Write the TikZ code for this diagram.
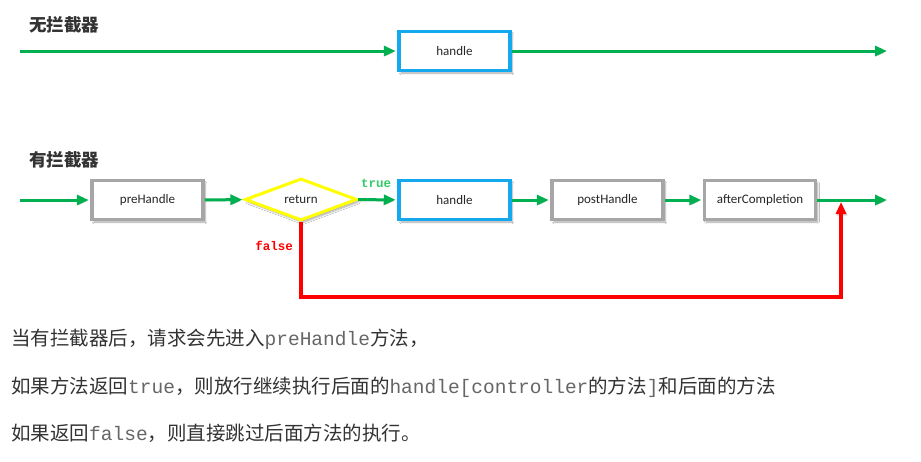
\documentclass[tikz,border=0pt]{standalone}
\usepackage{fontspec}
\setmainfont{Carlito}
\newfontfamily\cjk{Noto Sans CJK SC}
\newfontfamily\monof{Liberation Mono}
\usetikzlibrary{shapes.geometric,arrows.meta,shadows.blur}
\definecolor{cgreen}{HTML}{00B050}
\definecolor{cblue}{HTML}{14A9EE}
\definecolor{cgray}{HTML}{A6A6A6}
\definecolor{cyel}{HTML}{FFFF00}
\definecolor{cred}{HTML}{FF0000}
\definecolor{ctext}{HTML}{333333}
\definecolor{clabel}{HTML}{262626}
\definecolor{cmono}{HTML}{666666}
\definecolor{ctrue}{HTML}{33CC66}
\begin{document}
\begin{tikzpicture}[x=1pt,y=-1pt,
  sh/.style={blur shadow={shadow xshift=2pt, shadow yshift=-2.5pt, shadow opacity=35, shadow blur steps=6}},
  box/.style={draw, line width=3.5pt, fill=white, minimum width=111pt, minimum height=39pt, inner sep=0pt, font=\fontsize{13}{15}\selectfont, text=clabel, sh},
  graybox/.style={box, draw=cgray},
  bluebox/.style={box, draw=cblue},
  decision/.style={diamond, draw=cyel, line width=3pt, fill=white, minimum width=112pt, minimum height=42pt, inner sep=0pt, font=\fontsize{13}{15}\selectfont, text=clabel, sh},
  flow/.style={draw=cgreen, line width=3pt, -{Triangle[length=12pt,width=10pt]}, shorten >=1.5pt,
    preaction={draw=black!45, opacity=0.35, transform canvas={shift={(1pt,-1.5pt)}}}},
  back/.style={draw=cred, line width=3.5pt, -{Triangle[length=12pt,width=10pt]},
    preaction={draw=black!45, opacity=0.35, transform canvas={shift={(1pt,-1.5pt)}}}},
  title/.style={anchor=west, inner sep=0pt, font=\cjk\bfseries\fontsize{17.5}{20}\selectfont, text=ctext},
  note/.style={anchor=base west, inner sep=0pt, font=\cjk\fontsize{19.5}{22}\selectfont, text=ctext},
  cond/.style={inner sep=0pt, font=\monof\bfseries\fontsize{12.5}{14}\selectfont}
]
\useasboundingbox[fill=white] (0,0) rectangle (921,461);

% --- without interceptor
\node[title] (t1) at (29,25) {无拦截器};
\node[bluebox] (h0) at (454.5,51) {handle};
\coordinate (s1) at (20,51);
\coordinate (e1) at (887,51);
\draw[flow] (s1) -- (h0);
\draw[flow, shorten >=0pt] (h0) -- (e1);

% --- with interceptor
\node[title] (t2) at (29,160) {有拦截器};
\node[graybox] (pre) at (147.5,200) {preHandle};
\node[decision] (ret) at (301,199.5) {return};
\node[bluebox] (h1) at (454.5,200) {handle};
\node[graybox] (post) at (607.5,200) {postHandle};
\node[graybox] (after) at (760,200) {afterCompletion};
\coordinate (s2) at (20,200);
\coordinate (e2) at (887,200);
\coordinate (rc) at (841,297);
\coordinate (join) at (841,202);

\draw[flow] (s2) -- (pre);
\draw[flow] (pre) -- (ret);
\draw[flow] (ret) -- (h1);
\draw[flow] (h1) -- (post);
\draw[flow] (post) -- (after);
\draw[flow, shorten >=0pt] (after) -- (e2);
\draw[back] (ret.south) |- (rc) -- (join);

\node[cond, text=ctrue] (lt) at (376,183) {true};
\node[cond, text=cred] (lf) at (274,246) {false};

% --- explanation
\node[note] (n1) at (11,345) {当有拦截器后，请求会先进入{\monof\color{cmono}preHandle}方法，};
\node[note] (n2) at (11,393) {如果方法返回{\monof\color{cmono}true}，则放行继续执行后面的{\monof\color{cmono}handle[controller}的方法{\monof\color{cmono}]}和后面的方法};
\node[note] (n3) at (11,440) {如果返回{\monof\color{cmono}false}，则直接跳过后面方法的执行。};
\end{tikzpicture}
\end{document}
